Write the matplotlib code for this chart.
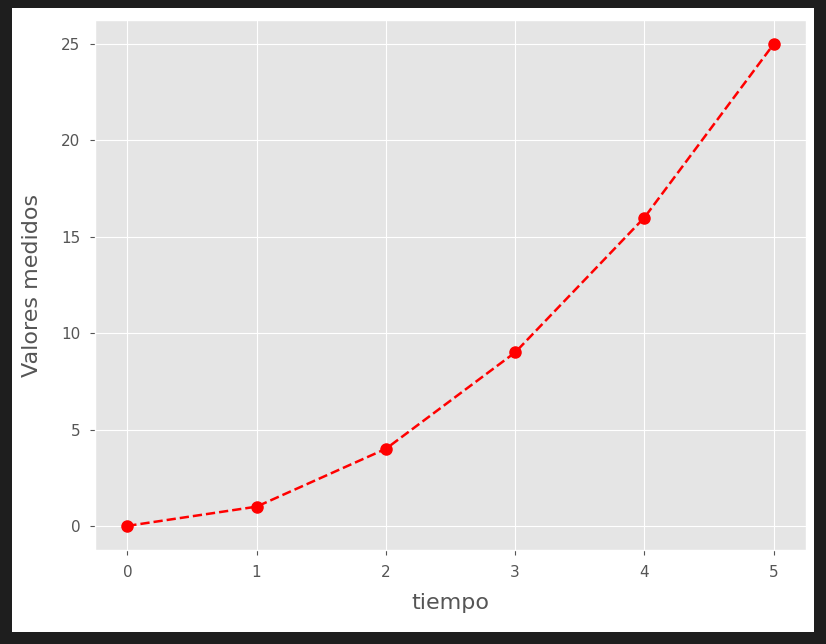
import matplotlib
matplotlib.use("Agg")
import matplotlib.pyplot as plt
from matplotlib.patches import Rectangle

plt.style.use("ggplot")

tiempo = [0, 1, 2, 3, 4, 5]
valores = [0, 1, 4, 9, 16, 25]

fig = plt.figure(figsize=(8.26, 6.44), dpi=100, facecolor="#1e1e1e")
# white canvas inside the dark screenshot frame
fig.patches.append(Rectangle((12/826, 12/644), 802/826, 624/644,
                             transform=fig.transFigure, facecolor="white",
                             edgecolor="none", zorder=-10))
ax = fig.add_axes([95/826, 94/644, 711/826, 530/644])
ax.plot(tiempo, valores, "r--o", markersize=8, linewidth=1.8)
ax.set_xlabel("tiempo", fontsize=16, labelpad=10)
ax.set_ylabel("Valores medidos", fontsize=16, labelpad=14)
ax.tick_params(labelsize=11, pad=7)

fig.savefig("out.png", dpi=100, facecolor=fig.get_facecolor())
